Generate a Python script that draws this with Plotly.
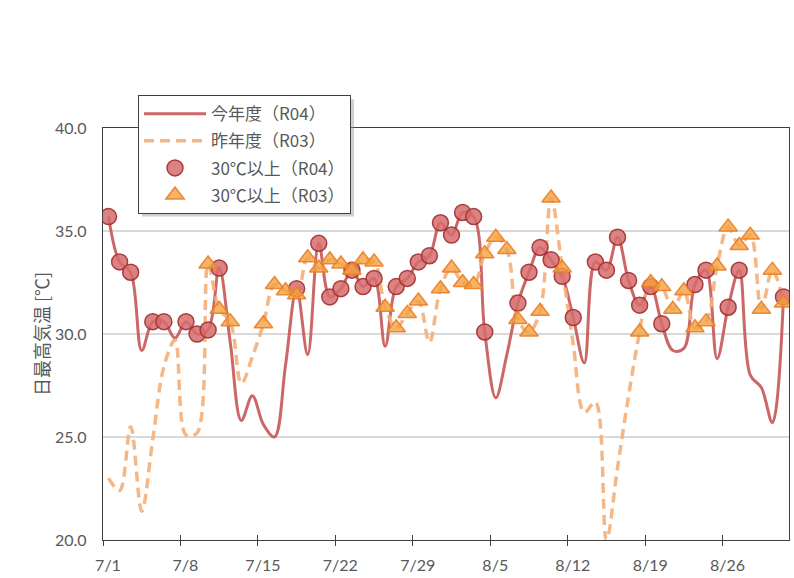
import plotly.graph_objects as go

# ---- data (day index 0 = 7/1 ... 61 = 8/31) ----
days = list(range(62))
tick_labels = ["7/1", "7/8", "7/15", "7/22", "7/29", "8/5", "8/12", "8/19", "8/26"]
tick_days = [0, 7, 14, 21, 28, 35, 42, 49, 56]

r04 = [35.7, 33.5, 33.0, 29.2, 30.6, 30.6, 29.8, 30.6, 30.0, 30.2,
       33.2, 29.6, 25.8, 27.0, 25.6, 25.0, 28.5, 32.2, 29.0, 34.4,
       31.8, 32.2, 33.1, 32.3, 32.7, 29.4, 32.3, 32.7, 33.5, 33.8,
       35.4, 34.8, 35.9, 35.7, 30.1, 26.9, 29.0, 31.5, 33.0, 34.2,
       33.6, 32.8, 30.8, 28.6, 33.5, 33.1, 34.7, 32.6, 31.4, 32.3,
       30.5, 29.2, 29.3, 32.4, 33.1, 28.8, 31.3, 33.1, 28.0, 27.4,
       25.7, 31.8]

r03 = [23.0, 22.4, 25.5, 21.4, 24.9, 28.4, 29.7, 25.1, 25.2, 33.4,
       31.2, 30.6, 27.6, 28.9, 30.5, 32.4, 32.1, 31.9, 33.7, 33.2,
       33.6, 33.4, 33.1, 33.6, 33.5, 31.3, 30.3, 31.0, 31.6, 29.6,
       32.2, 33.2, 32.5, 32.4, 33.9, 34.7, 34.1, 30.7, 30.1, 31.1,
       36.6, 33.2, 29.5, 26.2, 26.7, 20.0, 23.5, 27.0, 30.1, 32.5,
       32.3, 31.2, 32.1, 30.3, 30.6, 33.3, 35.2, 34.3, 34.8, 31.2,
       33.1, 31.5]

threshold = 30.0
names = ["今年度（R04）", "昨年度（R03）", "30℃以上（R04）", "30℃以上（R03）"]

r04_hot = [v if v >= threshold else None for v in r04]
r03_hot = [v if v >= threshold else None for v in r03]

JP = "Noto Sans CJK JP"
NUM = "Lato"
GREY = "#595959"

fig = go.Figure()
fig.add_trace(go.Scatter(
    x=days, y=r04, mode="lines", name=names[0], legendgroup="a",
    line=dict(color="rgba(198,86,86,0.9)", width=3, shape="spline", smoothing=1.0)))
fig.add_trace(go.Scatter(
    x=days, y=r03, mode="lines", name=names[1], legendgroup="b",
    line=dict(color="rgba(244,175,120,0.9)", width=3.5, dash="10px,6px",
              shape="spline", smoothing=1.0)))
fig.add_trace(go.Scatter(
    x=days, y=r04_hot, mode="markers", name=names[2], legendgroup="c",
    marker=dict(symbol="circle", size=16, color="rgba(214,108,108,0.85)",
                line=dict(color="rgba(160,48,48,0.9)", width=1.5))))
fig.add_trace(go.Scatter(
    x=days, y=r03_hot, mode="markers", name=names[3], legendgroup="d",
    marker=dict(symbol="triangle-up", size=16, color="rgba(245,160,64,0.8)",
                line=dict(color="rgba(232,128,40,0.9)", width=1.5))))
# invisible helper trace for the inner half of the x tick marks
fig.add_trace(go.Scatter(x=[days[0]], y=[r04[0]], xaxis="x2", mode="markers",
                         marker=dict(opacity=0), showlegend=False, hoverinfo="skip"))

tickpos = [d - 0.5 for d in tick_days]

fig.update_layout(
    width=794, height=578,
    margin=dict(l=103, r=4, t=128, b=36),
    paper_bgcolor="white", plot_bgcolor="white",
    showlegend=True,
    legend=dict(
        x=0.051, y=1.0797, xanchor="left", yanchor="top",
        bgcolor="white", bordercolor="#404040", borderwidth=1,
        font=dict(family=JP, size=17, color=GREY),
        traceorder="grouped", tracegroupgap=2, itemwidth=62,
    ),
    xaxis=dict(
        range=[-0.5, 61.5], tickvals=tickpos, ticktext=tick_labels,
        ticks="outside", ticklen=5, tickcolor="#404040", tickwidth=1,
        ticklabelshift=5, ticklabelstandoff=6,
        tickfont=dict(family=NUM, size=16, color=GREY),
        showgrid=False, zeroline=False,
        showline=True, linecolor="#404040", linewidth=1.3, mirror=True,
    ),
    xaxis2=dict(
        overlaying="x", matches="x", anchor="y", side="bottom",
        tickvals=tickpos, ticks="inside", ticklen=5, tickcolor="#404040",
        showticklabels=False, showgrid=False, zeroline=False, showline=False,
    ),
    yaxis=dict(
        range=[20, 40], dtick=5, tick0=20, tickformat=".1f",
        ticks="", ticklabelstandoff=12,
        tickfont=dict(family=NUM, size=16, color=GREY),
        showgrid=True, gridcolor="#D9D9D9", gridwidth=1.5, zeroline=False,
        showline=True, linecolor="#404040", linewidth=1.3, mirror=True,
        title=dict(text="日最高気温 [℃]", font=dict(family=JP, size=18, color=GREY),
                   standoff=0),
    ),
    shapes=[dict(
        type="rect", xref="paper", yref="paper", layer="above",
        x0=0.057, x1=0.366, y0=0.785, y1=1.070,
        fillcolor="rgba(150,150,150,0.45)", line=dict(width=0),
    )],
)

fig.write_html("out.html")
